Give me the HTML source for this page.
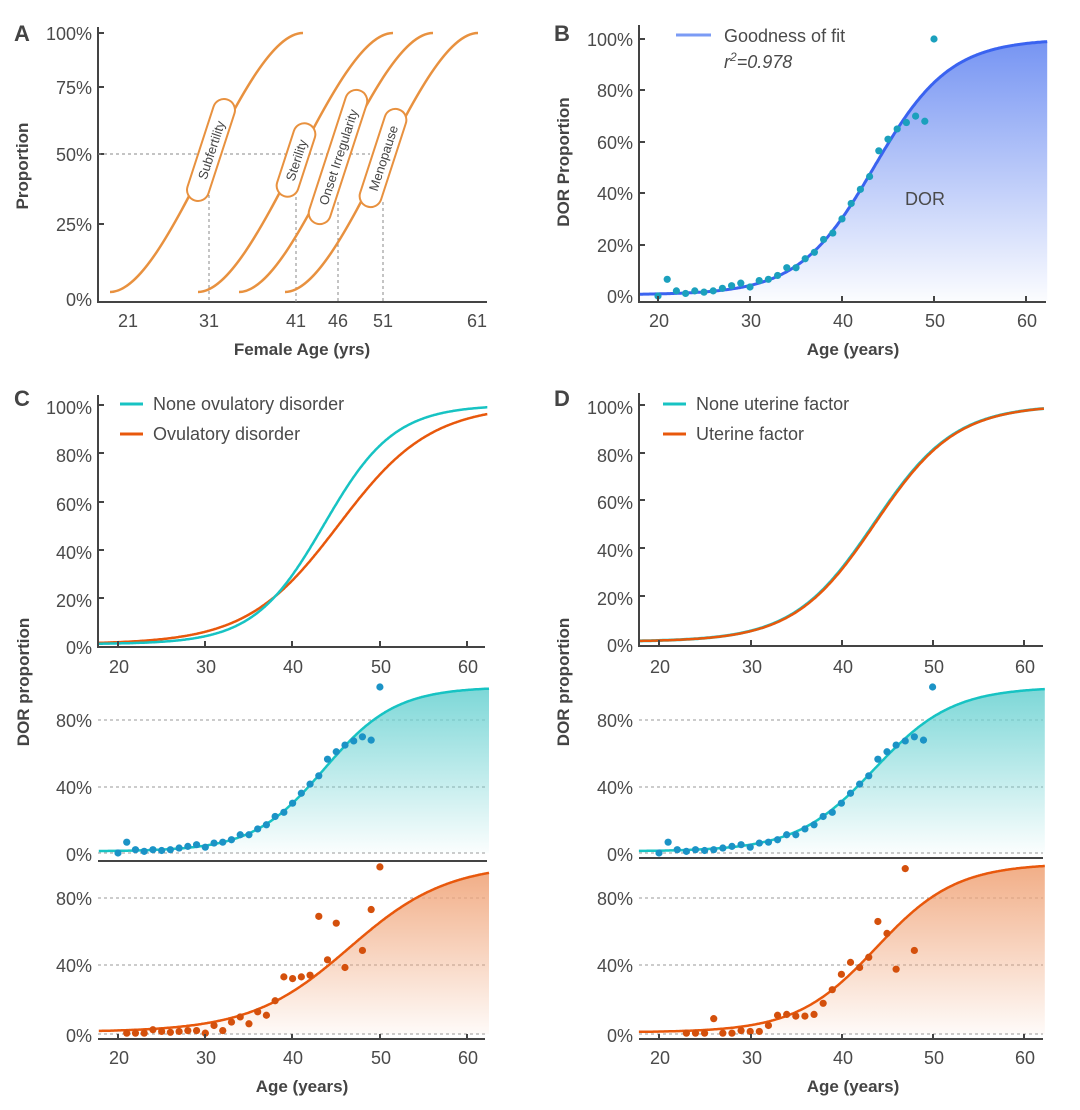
<!DOCTYPE html>
<html><head><meta charset="utf-8"><style>
html,body{margin:0;padding:0;background:#fff}
svg{display:block;font-family:"Liberation Sans",sans-serif}
.t{fill:#4a4a4a;font-size:18px}
.b{fill:#444;font-size:17px;font-weight:bold}
.p{fill:#444;font-size:22px;font-weight:bold}
</style></head><body>
<svg id="s" width="1080" height="1110" viewBox="0 0 1080 1110" xmlns="http://www.w3.org/2000/svg">
<defs>
<linearGradient id="gb" x1="0" y1="0" x2="0" y2="1"><stop offset="0" stop-color="#6f8ff2" stop-opacity="0.95"/><stop offset="1" stop-color="#6f8ff2" stop-opacity="0.03"/></linearGradient>
<linearGradient id="gt" x1="0" y1="0" x2="0" y2="1"><stop offset="0" stop-color="#6fd3d3" stop-opacity="0.9"/><stop offset="1" stop-color="#6fd3d3" stop-opacity="0.03"/></linearGradient>
<linearGradient id="go" x1="0" y1="0" x2="0" y2="1"><stop offset="0" stop-color="#f0a57a" stop-opacity="0.9"/><stop offset="1" stop-color="#f0a57a" stop-opacity="0.05"/></linearGradient>
</defs>

<!-- Panel A -->
<text class="p" x="14" y="41">A</text>
<g stroke="#444" stroke-width="2" fill="none"><path d="M98,27 V302 H487"/><path d="M98,33 h6 M98,87 h6 M98,154 h6 M98,224 h6"/></g>
<g class="t" text-anchor="end"><text x="92" y="40">100%</text><text x="92" y="94">75%</text><text x="92" y="161">50%</text><text x="92" y="231">25%</text><text x="92" y="306">0%</text></g>
<g class="t" text-anchor="middle"><text x="128" y="327">21</text><text x="209" y="327">31</text><text x="296" y="327">41</text><text x="338" y="327">46</text><text x="383" y="327">51</text><text x="477" y="327">61</text></g>
<text class="b" x="302" y="355" text-anchor="middle">Female Age (yrs)</text>
<text class="b" transform="translate(28,166) rotate(-90)" text-anchor="middle">Proportion</text>
<g stroke="#888" stroke-width="1" stroke-dasharray="3,3" fill="none"><path d="M98,154 H370 M209,195 V302 M296,197 V302 M338,202 V302 M383,202 V302"/></g>
<g stroke="#e8913f" stroke-width="2.5" fill="none">
<path d="M110,292 C170,292 243,33 303,33"/>
<path d="M198,292 C258,292 333,33 393,33"/>
<path d="M239,292 C299,292 373,33 433,33"/>
<path d="M285,292 C345,292 418,33 478,33"/>
</g>
<g stroke="#e8913f" stroke-width="2" fill="#fff" font-size="13">
<g transform="translate(211,150) rotate(-72)"><rect x="-53" y="-11" width="106" height="22" rx="11"/><text x="0" y="5" text-anchor="middle" fill="#444" stroke="none">Subfertility</text></g>
<g transform="translate(296,160) rotate(-72)"><rect x="-38" y="-11" width="76" height="22" rx="11"/><text x="0" y="5" text-anchor="middle" fill="#444" stroke="none">Sterility</text></g>
<g transform="translate(338,157) rotate(-72)"><rect x="-70" y="-11" width="140" height="22" rx="11"/><text x="0" y="5" text-anchor="middle" fill="#444" stroke="none">Onset Irregularity</text></g>
<g transform="translate(383,158) rotate(-72)"><rect x="-51" y="-11" width="102" height="22" rx="11"/><text x="0" y="5" text-anchor="middle" fill="#444" stroke="none">Menopause</text></g>
</g>

<!-- Panel B -->
<text class="p" x="554" y="41">B</text>
<g id="B"></g>
<g stroke="#444" stroke-width="2" fill="none"><path d="M639,25 V302 H1046"/><path d="M639,39 h6 M639,90 h6 M639,142 h6 M639,193 h6 M639,245 h6 M658,302 v-6 M750,302 v-6 M842,302 v-6 M934,302 v-6 M1026,302 v-6"/></g>
<g class="t" text-anchor="end"><text x="633" y="46">100%</text><text x="633" y="97">80%</text><text x="633" y="149">60%</text><text x="633" y="200">40%</text><text x="633" y="252">20%</text><text x="633" y="303">0%</text></g>
<g class="t" text-anchor="middle"><text x="659" y="327">20</text><text x="751" y="327">30</text><text x="843" y="327">40</text><text x="935" y="327">50</text><text x="1027" y="327">60</text></g>
<text class="b" x="853" y="355" text-anchor="middle">Age (years)</text>
<text class="b" transform="translate(569,162) rotate(-90)" text-anchor="middle">DOR Proportion</text>
<path d="M676,35 H711" stroke="#7b9bf5" stroke-width="3"/>
<text class="t" x="724" y="42" font-size="18">Goodness of fit</text>
<text class="t" x="724" y="68" font-size="18" font-style="italic">r<tspan dy="-7" font-size="12">2</tspan><tspan dy="7">=0.978</tspan></text>
<text class="t" x="925" y="205" text-anchor="middle">DOR</text>

<!-- Panel C -->
<text class="p" x="14" y="406">C</text>
<g id="C"></g>
<g stroke="#444" stroke-width="2" fill="none"><path d="M98,395 V647 H485"/><path d="M98,405 h6 M98,453 h6 M98,502 h6 M98,550 h6 M98,598 h6 M118,647 v-6 M205,647 v-6 M292,647 v-6 M380,647 v-6 M467,647 v-6"/>
<path d="M98,861 H487"/><path d="M98,1039 H485 M118,1039 v-5 M205,1039 v-5 M292,1039 v-5 M380,1039 v-5 M467,1039 v-5"/></g>
<g class="t" text-anchor="end"><text x="92" y="414">100%</text><text x="92" y="462">80%</text><text x="92" y="511">60%</text><text x="92" y="559">40%</text><text x="92" y="607">20%</text><text x="92" y="654">0%</text>
<text x="92" y="727">80%</text><text x="92" y="794">40%</text><text x="92" y="861">0%</text>
<text x="92" y="905">80%</text><text x="92" y="972">40%</text><text x="92" y="1042">0%</text></g>
<g class="t" text-anchor="middle"><text x="119" y="673">20</text><text x="206" y="673">30</text><text x="293" y="673">40</text><text x="381" y="673">50</text><text x="468" y="673">60</text>
<text x="119" y="1064">20</text><text x="206" y="1064">30</text><text x="293" y="1064">40</text><text x="381" y="1064">50</text><text x="468" y="1064">60</text></g>
<text class="b" x="302" y="1092" text-anchor="middle">Age (years)</text>
<text class="b" transform="translate(29,682) rotate(-90)" text-anchor="middle">DOR proportion</text>
<path d="M120,404 H143" stroke="#17c3c3" stroke-width="3"/><text class="t" x="153" y="410">None ovulatory disorder</text>
<path d="M120,434 H143" stroke="#e8580c" stroke-width="3"/><text class="t" x="153" y="440">Ovulatory disorder</text>

<!-- Panel D -->
<text class="p" x="554" y="406">D</text>
<g id="D"></g>
<g stroke="#444" stroke-width="2" fill="none"><path d="M639,393 V646 H1043"/><path d="M639,405 h6 M639,453 h6 M639,500 h6 M639,548 h6 M639,596 h6 M659,646 v-6 M751,646 v-6 M842,646 v-6 M933,646 v-6 M1024,646 v-6"/>
<path d="M639,858 H1043"/><path d="M639,1039 H1043 M659,1039 v-5 M751,1039 v-5 M842,1039 v-5 M933,1039 v-5 M1024,1039 v-5"/></g>
<g class="t" text-anchor="end"><text x="633" y="414">100%</text><text x="633" y="462">80%</text><text x="633" y="509">60%</text><text x="633" y="557">40%</text><text x="633" y="605">20%</text><text x="633" y="652">0%</text>
<text x="633" y="727">80%</text><text x="633" y="794">40%</text><text x="633" y="861">0%</text>
<text x="633" y="905">80%</text><text x="633" y="972">40%</text><text x="633" y="1042">0%</text></g>
<g class="t" text-anchor="middle"><text x="660" y="673">20</text><text x="752" y="673">30</text><text x="843" y="673">40</text><text x="934" y="673">50</text><text x="1025" y="673">60</text>
<text x="660" y="1064">20</text><text x="752" y="1064">30</text><text x="843" y="1064">40</text><text x="934" y="1064">50</text><text x="1025" y="1064">60</text></g>
<text class="b" x="853" y="1092" text-anchor="middle">Age (years)</text>
<text class="b" transform="translate(569,682) rotate(-90)" text-anchor="middle">DOR proportion</text>
<path d="M663,404 H686" stroke="#17c3c3" stroke-width="3"/><text class="t" x="696" y="410">None uterine factor</text>
<path d="M663,434 H686" stroke="#e8580c" stroke-width="3"/><text class="t" x="696" y="440">Uterine factor</text>
</svg>
<script>
var NS="http://www.w3.org/2000/svg";
function el(p,t,a){var e=document.createElementNS(NS,t);for(var k in a)e.setAttribute(k,a[k]);p.appendChild(e);return e;}
function sig(c,s,f){return function(a){return 100*(f+(1-f)/(1+Math.exp(-(a-c)/s)));};}
function curve(g,X,Y,fn,a0,a1,col,w,fill,base){
 var d="",pts=[];for(var a=a0;a<=a1+1e-9;a+=0.1){pts.push([X(a),Y(fn(a))]);}
 pts.forEach(function(p,i){d+=(i?"L":"M")+p[0].toFixed(1)+","+p[1].toFixed(1);});
 if(fill){el(g,"path",{d:d+"L"+pts[pts.length-1][0].toFixed(1)+","+base+"L"+pts[0][0].toFixed(1)+","+base+"Z",fill:fill});}
 el(g,"path",{d:d,fill:"none",stroke:col,"stroke-width":w});
}
function dots(g,X,Y,arr,col){arr.forEach(function(p){el(g,"circle",{cx:X(p[0]),cy:Y(p[1]),r:3.6,fill:col});});}
function grid(g,x0,x1,ys){ys.forEach(function(y){el(g,"path",{d:"M"+x0+","+y+"H"+x1,stroke:"#999","stroke-width":1,"stroke-dasharray":"3,3"});});}
var teal=[[20,0],[21,6.5],[22,2],[23,1],[24,2],[25,1.5],[26,2],[27,3],[28,4],[29,5],[30,3.5],[31,6],[32,6.5],[33,8],[34,11],[35,11],[36,14.5],[37,17],[38,22],[39,24.5],[40,30],[41,36],[42,41.5],[43,46.5],[44,56.5],[45,61],[46,65],[47,67.5],[48,70],[49,68],[50,100]];
var orC=[[21,0.5],[22,0.5],[23,0.5],[24,2.5],[25,1.5],[26,1],[27,1.5],[28,2],[29,2],[30,0.5],[31,5],[32,2],[33,7],[34,10],[35,6],[36,13],[37,11],[38,19.5],[39,33.5],[40,32.5],[41,33.5],[42,34.5],[43,69],[44,43.5],[45,65],[46,39],[48,49],[49,73],[50,98]];
var orD=[[23,0.5],[24,0.5],[25,0.5],[26,9],[27,0.5],[28,0.5],[29,2],[30,1.5],[31,1.5],[32,5],[33,11],[34,11.5],[35,10.5],[36,10.5],[37,11.5],[38,18],[39,26],[40,35],[41,42],[42,39],[43,45],[44,66],[45,59],[46,38],[47,97],[48,49]];
var TEAL="#17c3c3",OR="#e8580c",DB="#1b93c6",DO="#d4500c";
(function(){var g=document.getElementById("B");var X=function(a){return 658+(a-20)*9.2},Y=function(p){return 296-p*2.57};
curve(g,X,Y,sig(43.5,4.11,0.005),18,62.3,"#3a63f0",3,"url(#gb)",300);dots(g,X,Y,teal,"#1ba0bd");})();
(function(){var g=document.getElementById("C");var X=function(a){return 118+(a-20)*8.73};
var Y1=function(p){return 647-p*2.42};
curve(g,X,Y1,sig(45.3,5.26,0.012),17.8,62.3,OR,2.5);
curve(g,X,Y1,sig(43.6,4.03,0.012),17.8,62.3,TEAL,2.5);
var Y2=function(p){return 853-p*1.66};grid(g,98,485,[853,787,720]);
curve(g,X,Y2,sig(43.6,4.1,0.01),17.8,62.5,TEAL,2.5,"url(#gt)",853);dots(g,X,Y2,teal,DB);
var Y3=function(p){return 1034-p*1.705};grid(g,98,485,[1034,965,898]);
curve(g,X,Y3,sig(46.5,5.64,0.012),17.8,62.5,OR,2.5,"url(#go)",1034);dots(g,X,Y3,orC,DO);})();
(function(){var g=document.getElementById("D");var X=function(a){return 659+(a-20)*9.12};
var Y1=function(p){return 644-p*2.39};
curve(g,X,Y1,sig(43.6,4.44,0.01),17.8,62.2,TEAL,3);
curve(g,X,Y1,sig(43.7,4.44,0.01),17.8,62.2,OR,2.5);
var Y2=function(p){return 853-p*1.66};grid(g,639,1043,[853,787,720]);
curve(g,X,Y2,sig(43.6,4.3,0.01),17.8,62.3,TEAL,2.5,"url(#gt)",853);dots(g,X,Y2,teal,DB);
var Y3=function(p){return 1034-p*1.705};grid(g,639,1043,[1034,965,898]);
curve(g,X,Y3,sig(43.8,4.4,0.01),17.8,62.3,OR,2.5,"url(#go)",1034);dots(g,X,Y3,orD,DO);})();
</script>
</body></html>
